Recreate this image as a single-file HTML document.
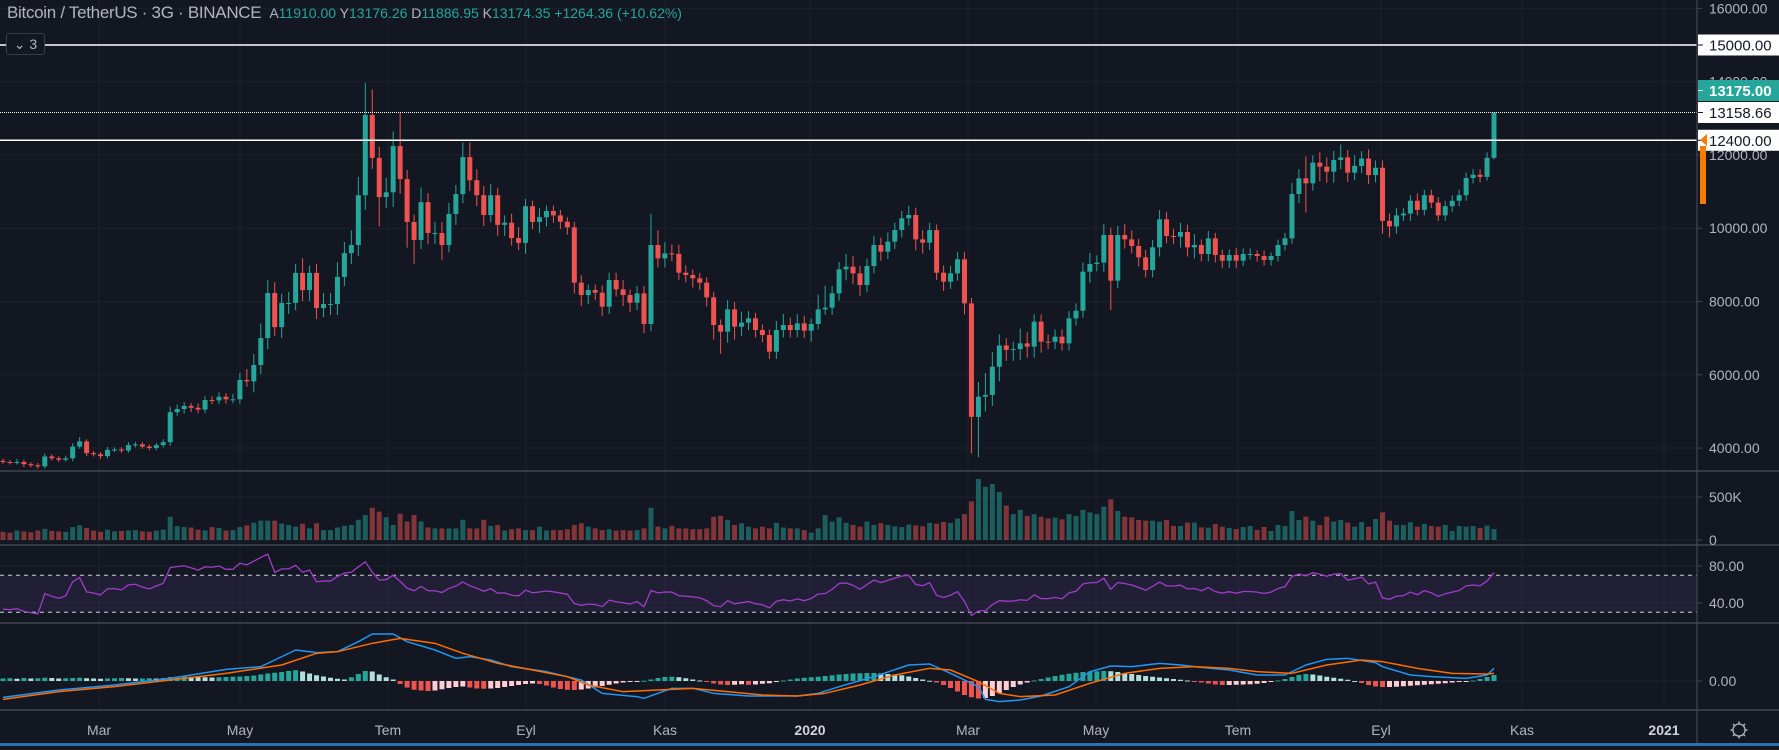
<!DOCTYPE html>
<html><head><meta charset="utf-8">
<style>
html,body{margin:0;padding:0;background:#131722;}
body{width:1779px;height:750px;overflow:hidden;position:relative;font-family:"Liberation Sans",sans-serif;}
svg{position:absolute;left:0;top:0;}
.hdr{position:absolute;left:7px;top:3px;font-size:17px;color:#b2b5be;white-space:nowrap;letter-spacing:-0.3px;}
.ohlc{font-size:14px;color:#b2b5be;margin-left:8px;letter-spacing:0;}
.ohlc b{font-weight:normal;color:#26a69a;}
.cnt{position:absolute;left:6px;top:33px;width:37px;height:20px;border:1px solid #363a45;border-radius:3px;background:#131722;color:#b2b5be;font-size:14px;line-height:20px;text-align:center;}
</style></head>
<body>
<svg id="chart" width="1779" height="750"></svg>
<div class="hdr">Bitcoin / TetherUS · 3G · BINANCE<span class="ohlc">A<b>11910.00</b> Y<b>13176.26</b> D<b>11886.95</b> K<b>13174.35</b> <b>+1264.36 (+10.62%)</b></span></div>
<div class="cnt">⌄ 3</div>
<script>
const closes=[3620,3610,3620,3560,3530,3500,3770,3720,3680,3720,4040,4180,3860,3830,3780,3950,3960,3930,4080,4100,4040,4000,4080,4160,4980,
5065,5150,5100,5050,5310,5300,5400,5330,5330,5857,5820,6266,7000,8230,7300,7960,7960,8780,8310,8780,7820,7930,7930,8670,9320,9540,10900,13090,11920,10850,10980,12240,11340,10170,9680,10710,9870,9870,9540,10390,10930,11940,11310,10900,10360,10900,10090,10150,9730,9600,10600,10170,10300,10470,10350,
10178,10023,8513,8176,8313,8240,7858,8586,8331,8176,7967,8222,7385,9541,9177,9313,9300,8786,8722,8631,8513,8113,7358,7176,7785,7312,7421,7540,7221,7085,6630,7221,7358,7221,7403,7203,7385,7785,7831,8222,8877,8950,8768,8449,8968,9541,9359,9632,9950,10269,10360,9696,9605,9950,8786,8540,8768,9150,7949,4850,
5400,5450,6220,6800,6680,6700,6858,6768,7449,6903,6900,7039,6858,7540,7749,8813,9023,9060,
9814,8568,9814,9696,9514,9205,8859,9478,10242,9787,9769,9896,9478,9541,9296,9723,9268,9114,9268,9114,9296,9296,9241,9132,9241,9541,9723,10933,11361,11224,11789,11680,11543,11861,11934,11516,
11700,11900,11450,11650,10200,10050,10350,10400,10750,10500,10900,10700,10350,10600,10750,10900,11370,11460,11400,11920,13158];
const firstOpen=3650;
const wickHi=[60,50,80,60,50,60,80,60,60,70,90,120,60,60,60,80,60,60,80,70,60,60,60,80,150,120,100,80,120,100,
100,120,100,150,200,300,300,400,350,300,250,300,250,400,200,250,300,300,400,300,400,500,870,700,300,400,400,920,250,200,
400,250,300,300,300,250,400,400,300,250,300,200,200,250,300,200,150,250,150,150,150,120,150,200,150,150,200,200,200,250,
150,200,200,850,400,300,250,250,200,150,150,150,150,150,250,200,300,200,150,150,150,250,300,200,250,200,150,400,600,200,
200,350,300,200,200,250,200,250,200,200,250,200,250,200,150,200,200,200,200,150,400,600,400,300,200,200,400,300,200,200,
200,200,200,200,200,250,300,200,300,200,250,300,250,200,200,200,250,200,200,250,200,300,150,200,150,150,150,200,150,150,
100,150,100,150,150,300,250,600,200,300,250,250,350,200,300,200,250,200,200,200,200,150,150,200,150,150,150,150,150,150,
150,150,150,150,20];
const wickLo=[50,60,60,80,60,60,60,60,60,50,80,60,80,60,80,60,60,60,60,60,60,60,60,60,100,100,120,120,100,100,
100,100,120,100,120,150,300,250,300,250,300,300,200,300,300,300,250,300,300,250,300,300,400,300,800,300,400,400,700,650,
250,300,300,400,200,300,250,300,300,300,200,300,300,200,200,300,200,300,250,200,200,200,300,300,250,200,250,200,200,300,
250,200,250,200,250,250,200,200,200,250,200,250,400,600,300,350,250,200,200,200,200,200,200,200,200,200,300,150,150,200,
200,300,300,300,200,200,250,200,200,200,200,300,300,200,200,250,200,200,300,1000,1100,400,300,400,300,300,300,300,300,300,
200,200,200,200,200,200,300,200,250,800,200,250,200,250,200,200,250,200,200,300,250,300,200,200,200,200,200,200,150,150,
150,150,150,150,150,150,250,800,200,400,300,300,250,250,200,200,250,200,350,300,200,150,200,150,150,150,150,150,150,150,
150,150,150,100,50];
const volumes=[95,85,110,100,90,110,130,105,100,95,150,170,140,110,95,120,100,105,110,115,100,95,110,120,271,160,150,145,120,110,
150,140,110,115,150,170,200,225,225,225,190,175,155,190,135,195,115,115,145,165,175,235,290,375,330,265,175,305,215,290,
215,145,135,135,135,135,235,135,135,235,165,175,110,125,135,115,115,155,110,115,115,125,175,195,155,135,115,125,110,115,
110,115,135,375,155,135,165,135,135,125,125,135,270,280,235,175,195,155,135,155,135,200,145,135,135,115,85,135,290,215,
265,200,175,155,215,175,195,175,160,150,180,170,160,200,190,210,200,250,300,450,710,620,650,560,400,300,350,280,300,270,
250,260,240,300,280,350,320,300,388,473,337,271,264,233,225,225,213,233,163,163,202,202,147,143,186,155,140,128,151,163,
116,151,105,174,163,337,233,271,225,174,271,213,233,202,155,209,155,244,322,225,174,174,205,155,186,163,155,174,105,163,
155,163,140,167,128];
const hist=[100,110,90,120,100,110,130,120,100,110,120,130,110,100,90,100,110,120,110,100,100,110,100,120,160,170,180,170,160,150,
140,150,160,170,180,200,220,260,300,330,360,400,430,380,300,230,180,130,90,60,150,280,400,380,260,150,60,-120,-260,-350,
-380,-400,-380,-330,-280,-240,-220,-260,-300,-310,-300,-280,-240,-200,-160,-120,-100,-120,-180,-260,-320,-350,-360,-340,-300,-250,-200,-150,-100,-60,
-40,-20,10,60,120,160,170,150,110,60,20,-40,-100,-140,-160,-150,-130,-150,-140,-110,-90,-40,20,60,100,130,150,170,200,230,
260,280,300,310,320,320,300,280,260,230,180,120,60,10,-60,-160,-280,-420,-560,-650,-700,-680,-600,-480,-360,-240,-140,-60,20,80,
140,200,250,290,330,360,380,390,400,390,360,320,280,240,200,170,140,110,80,50,20,-20,-60,-100,-140,-160,-160,-150,-140,-130,
-110,-80,-40,20,80,160,240,280,260,220,170,130,90,50,0,-80,-160,-220,-240,-240,-230,-210,-190,-170,-150,-130,-110,-90,-60,-30,
-10,20,80,160,240];
const macdIdx=[0,8,16,24,32,37,39,42,45,48,51,53,56,58,62,65,67,70,73,78,83,86,91,92,96,99,102,107,114,117,120,125,130,133,136,140,141,143,146,149,153,156,159,162,166,169,172,176,180,184,187,190,193,197,198,202,205,210,213,214];
const macdVals=[-653,-360,-160,107,467,573,840,1240,1133,1173,1573,1880,1880,1573,1240,907,973,840,573,373,40,-493,-627,-693,-293,-293,-493,-600,-600,-493,-227,173,640,680,307,-227,-733,-827,-760,-600,-227,373,600,573,707,640,547,440,240,240,640,867,907,733,573,240,173,107,240,507];
const sigIdx=[0,8,16,24,32,40,45,48,53,57,62,66,71,76,81,84,89,94,99,104,109,114,118,123,128,133,136,140,143,146,151,156,161,166,171,176,180,185,190,195,198,203,208,213,214];
const sigVals=[-733,-427,-227,40,307,640,1107,1173,1507,1707,1507,1107,707,440,173,-160,-427,-360,-293,-427,-560,-600,-493,-160,240,507,440,-27,-493,-627,-560,-93,307,507,573,507,373,307,640,840,773,507,307,280,307];
const priceTicks=[16000,14000,12000,10000,8000,6000,4000];
const timeLabels=["Mar","May","Tem","Eyl","Kas","2020","Mar","May","Tem","Eyl","Kas","2021"];
const timeX=[99,240,388,526,665,810,968,1096,1238,1381,1522,1664];
const hLevels=[15000,13158.66,12400];

const svg=document.getElementById('chart');
const NS='http://www.w3.org/2000/svg';
function mk(tag,attrs,parent){const e=document.createElementNS(NS,tag);for(const k in attrs)e.setAttribute(k,attrs[k]);(parent||svg).appendChild(e);return e;}
const N=closes.length;
const X0=3,X1=1494,step=(X1-X0)/(N-1);
const AX=1697;
const xOf=i=>X0+i*step;
const yP=p=>45+(15000-p)*0.03664;
const yV=v=>540-v*0.086;
const yR=v=>566+(80-v)*0.925;
const yM=v=>681-v*0.025;
const GREEN='#26a69a',RED='#ef5350',GRID='#1d212c',SEP='#434651',TXT='#b2b5be';

const grid=mk('g',{});
timeX.forEach(x=>{const l=mk('line',{x1:x,x2:x,y1:0,y2:710,stroke:GRID,'stroke-width':1},grid);});
priceTicks.forEach(p=>{const l=mk('line',{x1:0,x2:AX,y1:yP(p),y2:yP(p),stroke:GRID},grid);});
[500,0].forEach(v=>{mk('line',{x1:0,x2:AX,y1:yV(v),y2:yV(v),stroke:GRID},grid);});
[80,40].forEach(v=>{mk('line',{x1:0,x2:AX,y1:yR(v),y2:yR(v),stroke:GRID},grid);});
mk('line',{x1:0,x2:AX,y1:yM(0),y2:yM(0),stroke:GRID},grid);

const cg=mk('g',{});
const opens=[];
for(let i=0;i<N;i++){
  const o=i===0?firstOpen:closes[i-1],c=closes[i];opens.push(o);
  const col=c>=o?GREEN:RED,x=xOf(i);
  const hi=Math.max(o,c)+wickHi[i],lo=Math.min(o,c)-wickLo[i];
  const w=mk('line',{x1:x,x2:x,y1:yP(hi),y2:yP(lo),stroke:col,'stroke-width':1},cg);
  
  
  const t=yP(Math.max(o,c)),b=yP(Math.min(o,c));
  const r=mk('rect',{x:x-2.5,y:t,width:5,height:Math.max(1,b-t),fill:col},cg);
  
  
}
hLevels.forEach((p,k)=>{const l=mk('line',{x1:0,x2:AX,y1:yP(p),y2:yP(p),stroke:'#ffffff','stroke-width':k===1?1:1.5,'stroke-dasharray':k===1?'1,1':'none'});
 
 });

const vg=mk('g',{});
for(let i=0;i<N;i++){const col=closes[i]>=opens[i]?'#26a69a':'#ef5350';
  const r=mk('rect',{x:xOf(i)-2.5,y:yV(volumes[i]),width:5,height:540-yV(volumes[i]),fill:col,'fill-opacity':0.5},vg);
  
  }

const band=mk('rect',{x:0,y:yR(70),width:AX,height:yR(30)-yR(70),fill:'#7e57c2','fill-opacity':0.13});

[70,30].forEach(v=>{const l=mk('line',{x1:0,x2:AX,y1:yR(v),y2:yR(v),stroke:'#d1d4dc','stroke-dasharray':'4,4'});});
let ag=20,al=40;const rsi=[];
for(let i=0;i<N;i++){const d=i===0?0:closes[i]-closes[i-1];ag=(ag*13+Math.max(d,0))/14;al=(al*13+Math.max(-d,0))/14;rsi.push(100-100/(1+ag/al));}
const rl=mk('polyline',{points:rsi.map((v,i)=>xOf(i)+','+yR(v)).join(' '),fill:'none',stroke:'#a03cc8','stroke-width':1.3});


const hg=mk('g',{});
for(let i=0;i<N;i++){const v=hist[i],pv=i?hist[i-1]:0;
  const col=v>=0?(v>=pv?'#26a69a':'#b2dfdb'):(v<pv?'#ef5350':'#ffcdd2');
  const y1=yM(Math.max(v,0)),y2=yM(Math.min(v,0));
  const r=mk('rect',{x:xOf(i)-2.5,y:y1,width:5,height:Math.max(1,y2-y1),fill:col},hg);
  
  }
const ml=mk('polyline',{points:macdIdx.map((ix,k)=>xOf(ix)+','+yM(macdVals[k])).join(' '),fill:'none',stroke:'#2196f3','stroke-width':1.5,'stroke-linejoin':'round'});

const sl=mk('polyline',{points:sigIdx.map((ix,k)=>xOf(ix)+','+yM(sigVals[k])).join(' '),fill:'none',stroke:'#ff6d00','stroke-width':1.5,'stroke-linejoin':'round'});


[471,545,623,710].forEach(y=>{const l=mk('line',{x1:0,x2:1779,y1:y,y2:y,stroke:SEP,'stroke-width':1.5});});
const al2=mk('line',{x1:AX,x2:AX,y1:0,y2:743,stroke:SEP,'stroke-width':1.2});
function lbl(y,t,name){mk('line',{x1:AX,x2:AX+5,y1:y,y2:y,stroke:SEP});const e=mk('text',{x:1709,y:y+5,fill:TXT,'font-size':14,'font-family':'Liberation Sans, sans-serif'});e.textContent=t;}
priceTicks.forEach(p=>lbl(yP(p),p.toFixed(2),'price-tick-label'));
lbl(yV(500),'500K','volume-tick-label');lbl(yV(0),'0','volume-tick-label');
lbl(yR(80),'80.00','rsi-tick-label');lbl(yR(40),'40.00','rsi-tick-label');
lbl(yM(0),'0.00','macd-tick-label');
function tag(y,t,bg,fg,name){const r=mk('rect',{x:AX+1,y:y-10.5,width:81,height:21,fill:bg});
 mk('line',{x1:AX+1,x2:AX+6,y1:y,y2:y,stroke:fg});
 const e=mk('text',{x:1709,y:y+5.5,fill:fg,'font-size':15,'font-family':'Liberation Sans, sans-serif','font-weight':bg===GREEN?'bold':'normal'});e.textContent=t;}
tag(yP(15000),'15000.00','#ffffff','#131722','level-15000-label');
tag(90.5,'13175.00',GREEN,'#ffffff','last-price-label');
tag(yP(13158.66),'13158.66','#ffffff','#131722','level-13158-label');
tag(yP(12400),'12400.00','#ffffff','#131722','level-12400-label');
const ob=mk('rect',{x:1700,y:146,width:6,height:58,fill:'#f57c00'});
const ot=mk('polygon',{points:'1700,140 1707,134 1707,146',fill:'#f57c00'});
timeLabels.forEach((t,k)=>{const e=mk('text',{x:timeX[k],y:735,fill:(t==='2020'||t==='2021')?'#d1d4dc':TXT,'font-size':14,'text-anchor':'middle','font-weight':(t==='2020'||t==='2021')?'bold':'normal','font-family':'Liberation Sans, sans-serif'});e.textContent=t;
 
 });
const gear=mk('g',{});
mk('circle',{cx:1739,cy:730,r:6,fill:'none',stroke:TXT,'stroke-width':1.3},gear);
for(let k=0;k<8;k++){const a=k*Math.PI/4;mk('line',{x1:1739+6*Math.cos(a),y1:730+6*Math.sin(a),x2:1739+8.5*Math.cos(a),y2:730+8.5*Math.sin(a),stroke:TXT,'stroke-width':1.5},gear);}
const bb=mk('rect',{x:0,y:743,width:1779,height:3,fill:'#2f6db5'});
</script>
</body></html>
